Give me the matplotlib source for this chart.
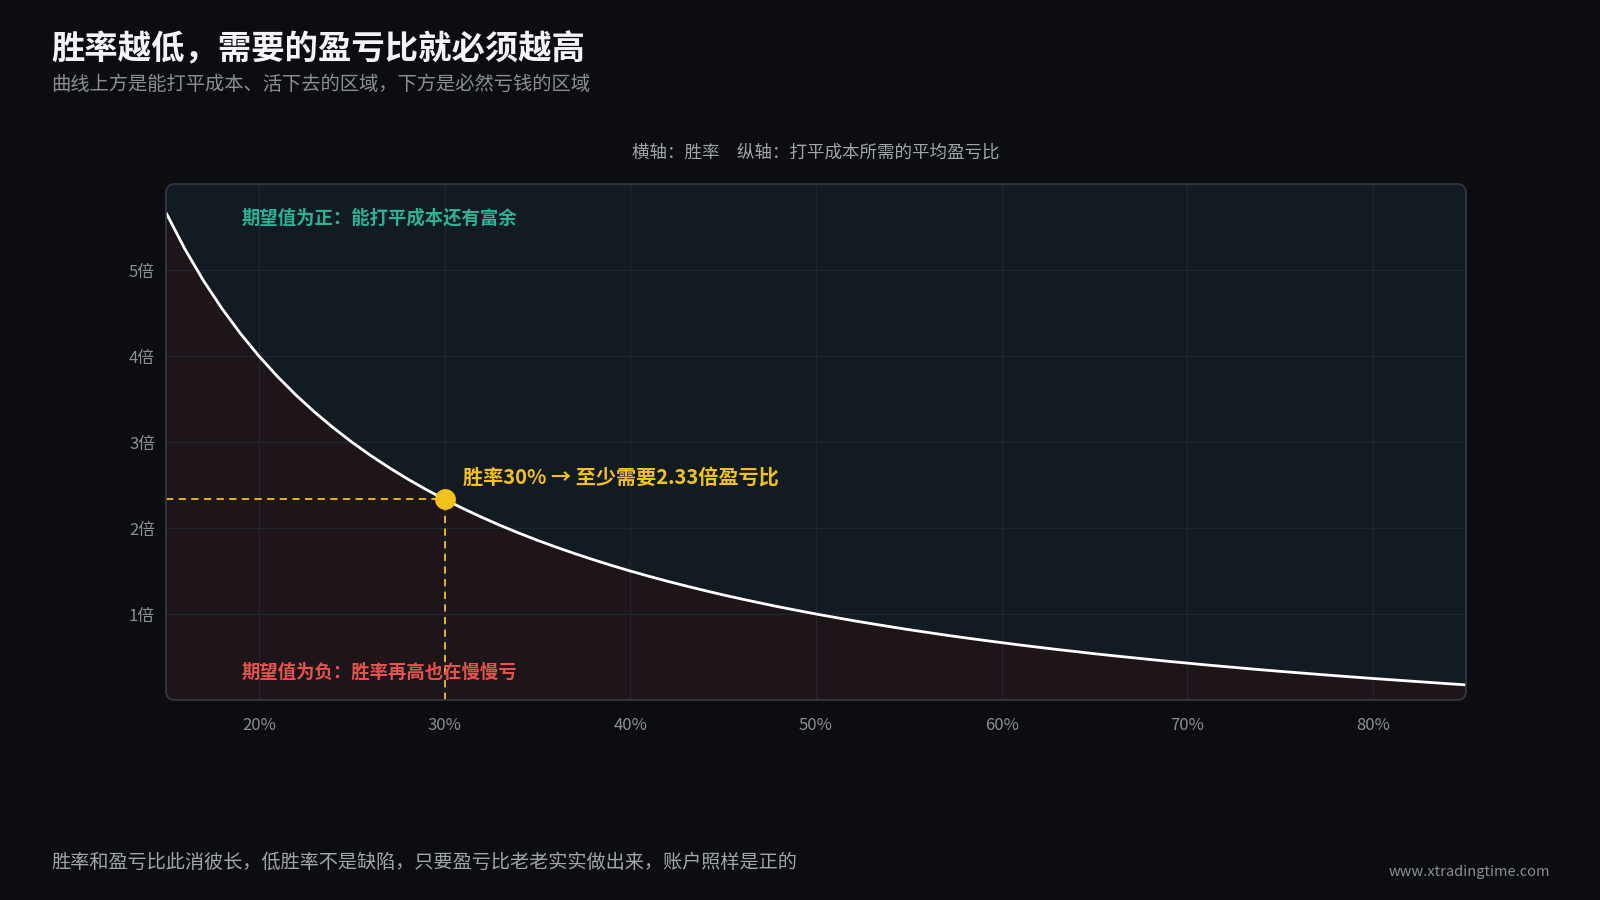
import matplotlib
matplotlib.use("Agg")
import matplotlib.pyplot as plt
from matplotlib.patches import FancyBboxPatch

plt.rcParams['font.family'] = ['Noto Sans CJK SC', 'DejaVu Sans']

# ---- data ----
win_rate = list(range(15, 86))  # %
breakeven_ratio = [5.667, 5.250, 4.882, 4.556, 4.263, 4.000, 3.762, 3.545, 3.348, 3.167,
                   3.000, 2.846, 2.704, 2.571, 2.448, 2.333, 2.226, 2.125, 2.030, 1.941,
                   1.857, 1.778, 1.703, 1.632, 1.564, 1.500, 1.439, 1.381, 1.326, 1.273,
                   1.222, 1.174, 1.128, 1.083, 1.041, 1.000, 0.961, 0.923, 0.887, 0.852,
                   0.818, 0.786, 0.754, 0.724, 0.695, 0.667, 0.639, 0.613, 0.587, 0.563,
                   0.538, 0.515, 0.493, 0.471, 0.449, 0.429, 0.408, 0.389, 0.370, 0.351,
                   0.333, 0.316, 0.299, 0.282, 0.266, 0.250, 0.235, 0.220, 0.205, 0.190,
                   0.176]
x_ticks = [20, 30, 40, 50, 60, 70, 80]
x_labels = ['20%', '30%', '40%', '50%', '60%', '70%', '80%']
y_ticks = [1, 2, 3, 4, 5]
y_labels = ['1倍', '2倍', '3倍', '4倍', '5倍']
highlight_x = 30
highlight_y = 2.333

title = '胜率越低，需要的盈亏比就必须越高'
subtitle = '曲线上方是能打平成本、活下去的区域，下方是必然亏钱的区域'
axis_caption = '横轴：胜率　纵轴：打平成本所需的平均盈亏比'
upper_label = '期望值为正：能打平成本还有富余'
lower_label = '期望值为负：胜率再高也在慢慢亏'
annotation = '胜率30% → 至少需要2.33倍盈亏比'
footer = '胜率和盈亏比此消彼长，低胜率不是缺陷，只要盈亏比老老实实做出来，账户照样是正的'
website = 'www.xtradingtime.com'

# ---- colours ----
BG = '#0c0d11'
UPPER = '#121b21'
LOWER = '#1d1519'
GRID = '#20262d'
BORDER = '#363b43'
TEXT_MAIN = '#f4f4f6'
TEXT_SUB = '#8b8e95'
TEXT_TICK = '#8b8e95'
TEAL = '#2bb39a'
RED = '#e8534f'
GOLD = '#f2c21a'

W, H = 1600, 900
fig = plt.figure(figsize=(16, 9), dpi=100, facecolor=BG)

L, R, T, B = 166, 1466, 184, 700
ax = fig.add_axes([L / W, 1 - B / H, (R - L) / W, (B - T) / H])
ax.set_facecolor('none')
ax.set_xlim(15, 85)
ax.set_ylim(0, 6)
for s in ax.spines.values():
    s.set_visible(False)


def rounded_box(**kw):
    return FancyBboxPatch((L / W, 1 - B / H), (R - L) / W, (B - T) / H,
                          boxstyle='round,pad=0,rounding_size=%f' % (9 / W),
                          mutation_aspect=W / H, transform=fig.transFigure, **kw)


frame = rounded_box(facecolor='none', edgecolor=BORDER, linewidth=1.2, zorder=6)
fig.patches.append(frame)
clip = rounded_box(facecolor='none', edgecolor='none')

upper = ax.fill_between(win_rate, breakeven_ratio, 6, color=UPPER, lw=0, zorder=1)
lower = ax.fill_between(win_rate, 0, breakeven_ratio, color=LOWER, lw=0, zorder=1)
upper.set_clip_path(clip)
lower.set_clip_path(clip)

ax.set_xticks(x_ticks)
ax.set_xticklabels(x_labels)
ax.set_yticks(y_ticks)
ax.set_yticklabels(y_labels)
ax.tick_params(length=0, colors=TEXT_TICK, labelsize=12)
ax.tick_params(axis='x', pad=12)
ax.tick_params(axis='y', pad=8)
ax.grid(True, color=GRID, linewidth=0.9, zorder=2)
ax.set_axisbelow(False)
for gl in ax.get_xgridlines() + ax.get_ygridlines():
    gl.set_zorder(2)

line, = ax.plot(win_rate, breakeven_ratio, color='#ffffff', lw=2.0, zorder=4,
                solid_capstyle='butt', solid_joinstyle='round')
line.set_clip_path(clip)

# highlight
ax.plot([15, highlight_x], [highlight_y, highlight_y], color=GOLD, lw=1.3,
        ls=(0, (4, 3)), zorder=3)
ax.plot([highlight_x, highlight_x], [0, highlight_y], color=GOLD, lw=1.3,
        ls=(0, (4, 3)), zorder=3)
ax.plot([highlight_x], [highlight_y], 'o', color=GOLD, markersize=15, zorder=5,
        markeredgewidth=0)
ax.annotate(annotation, (highlight_x, highlight_y), xytext=(13, 16),
            textcoords='offset points', color=GOLD, fontsize=14.5,
            fontweight='bold', va='center', ha='left', zorder=6)

# region labels
fig.text(242 / W, 1 - 218 / H, upper_label, color=TEAL, fontsize=13.2,
         fontweight='bold', va='center', ha='left')
fig.text(242 / W, 1 - 672 / H, lower_label, color=RED, fontsize=13.2,
         fontweight='bold', va='center', ha='left')

# titles and captions
fig.text(51 / W, 1 - 50 / H, title, color=TEXT_MAIN, fontsize=24,
         fontweight='bold', va='center', ha='left')
fig.text(51 / W, 1 - 84 / H, subtitle, color=TEXT_SUB, fontsize=13.9,
         va='center', ha='left')
fig.text(816 / W, 1 - 153 / H, axis_caption, color='#a2a5ab', fontsize=12.6,
         va='center', ha='center')
fig.text(51 / W, 1 - 862 / H, footer, color='#a2a5ab', fontsize=13.8,
         va='center', ha='left')
fig.text(1550 / W, 1 - 872 / H, website, color=TEXT_SUB, fontsize=10.5,
         va='center', ha='right')

fig.savefig('out.png', dpi=100, facecolor=BG)
